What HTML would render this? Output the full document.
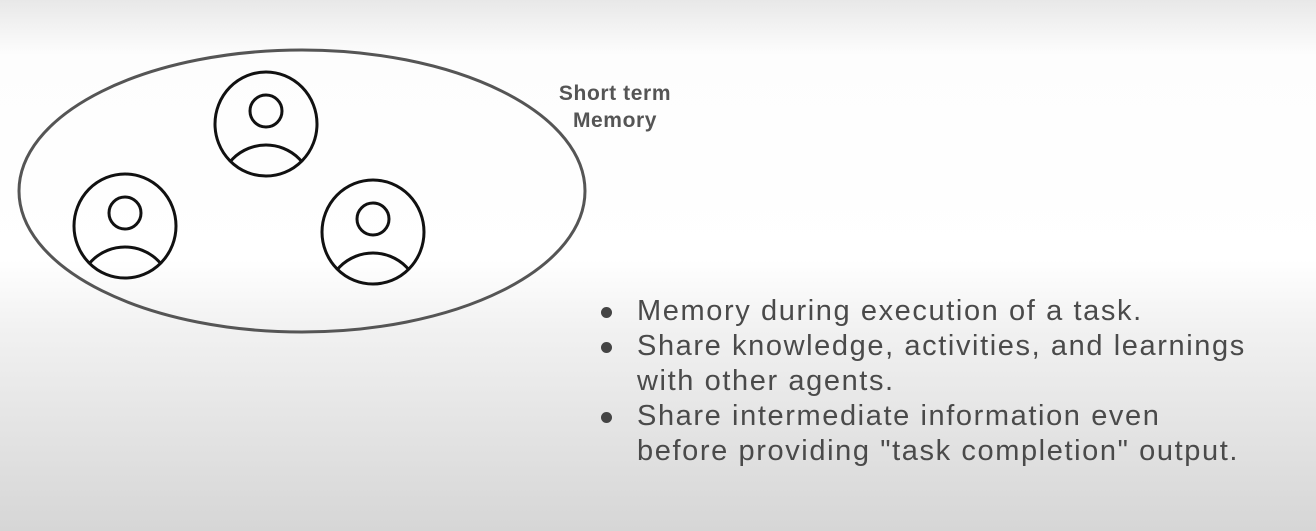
<!DOCTYPE html>
<html><head><meta charset="utf-8"><style>
html,body{margin:0;padding:0}
body{width:1316px;height:531px;overflow:hidden;position:relative;font-family:"Liberation Sans",sans-serif;
background:linear-gradient(to bottom,#e8e8e8 0px,#fdfdfd 55px,#ffffff 260px,#f1f1f1 330px,#d6d6d6 531px);}
.lbl{position:absolute;left:540px;top:80px;width:150px;text-align:center;font-weight:bold;font-size:21px;line-height:27px;color:#555;letter-spacing:0.6px}
ul{position:absolute;left:598px;top:294px;margin:0;padding:0;list-style:none;font-size:29px;line-height:35px;color:#4a4a4a;letter-spacing:1.6px}
li{position:relative;padding-left:39px}
li:before{content:"";position:absolute;left:3px;top:13px;width:11px;height:11px;border-radius:50%;background:#444}
</style></head><body>
<svg width="1316" height="531" style="position:absolute;left:0;top:0">
<defs>
<clipPath id="c1"><circle cx="266" cy="124" r="51"/></clipPath>
<clipPath id="c2"><circle cx="125" cy="226" r="51"/></clipPath>
<clipPath id="c3"><circle cx="373" cy="232" r="51"/></clipPath>
</defs>
<ellipse cx="302" cy="191" rx="283" ry="141" fill="none" stroke="#555" stroke-width="3"/>
<g fill="none" stroke="#111" stroke-width="3">
<ellipse cx="266" cy="124" rx="51" ry="52"/><circle cx="266" cy="111" r="16"/><circle cx="266" cy="192" r="47" clip-path="url(#c1)"/>
<ellipse cx="125" cy="226" rx="51" ry="52"/><circle cx="125" cy="213" r="16"/><circle cx="125" cy="294" r="47" clip-path="url(#c2)"/>
<ellipse cx="373" cy="232" rx="51" ry="52"/><circle cx="373" cy="219" r="16"/><circle cx="373" cy="300" r="47" clip-path="url(#c3)"/>
</g>
</svg>
<div class="lbl">Short term<br>Memory</div>
<ul>
<li>Memory during execution of a task.</li>
<li>Share knowledge, activities, and learnings<br>with other agents.</li>
<li>Share intermediate information even<br>before providing "task completion" output.</li>
</ul>
</body></html>
